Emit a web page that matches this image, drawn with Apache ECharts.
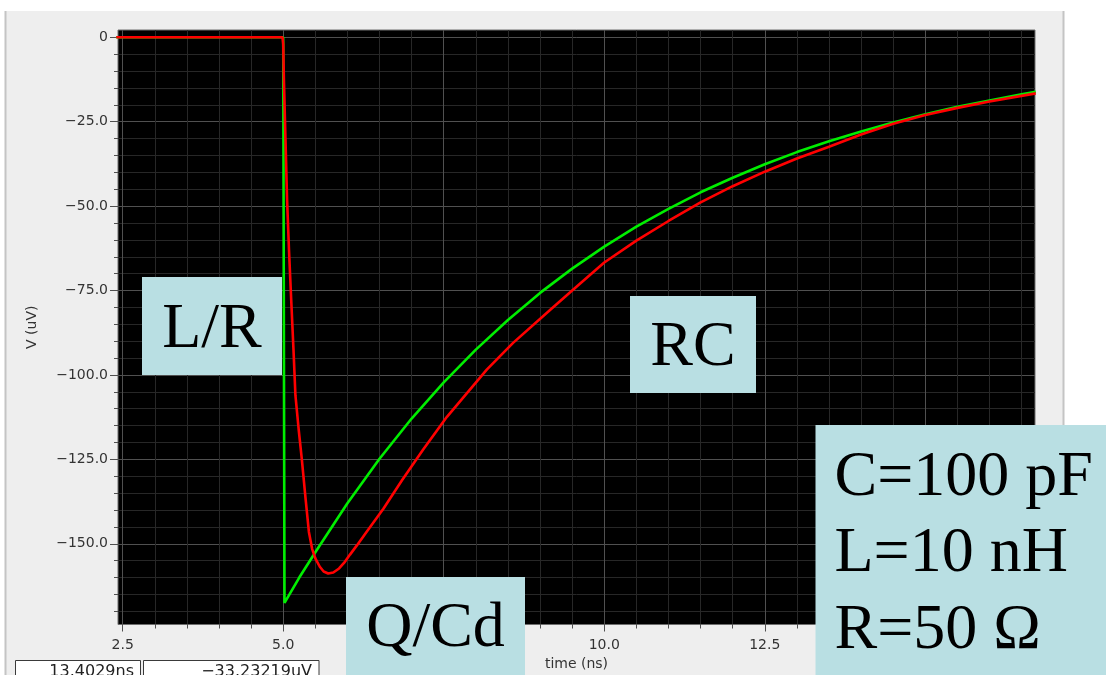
<!DOCTYPE html>
<html><head><meta charset="utf-8">
<script src="https://cdn.jsdelivr.net/npm/echarts@6/dist/echarts.min.js"></script>
<style>html,body{margin:0;padding:0;background:#fff}#c{width:1106px;height:675px}</style>
</head><body><div id="c"></div>
<script>
// ---- data ----
const xMajorTicks = [2.5, 5, 7.5, 10, 12.5, 15];
const xTickLabels = ['2.5', '5.0', '7.5', '10.0', '12.5', '15.0'];
const yMajorTicks = [0, -25, -50, -75, -100, -125, -150];
const yTickLabels = ['0', '−25.0', '−50.0', '−75.0', '−100.0', '−125.0', '−150.0'];

const greenTime = [2.4, 5.0, 5.02, 5.25, 5.5, 6.0, 6.5, 7.0, 7.5, 8.0, 8.5, 9.0, 9.5, 10.0, 10.5, 11.0, 11.5, 12.0, 12.5, 13.0, 13.5, 14.0, 14.5, 15.0, 15.5, 16.0, 16.5, 16.72];
const greenV = [0, 0, -167.5, -160, -152.5, -138, -124.8, -112.9, -102.2, -92.5, -83.7, -75.7, -68.5, -62, -56.1, -50.8, -45.9, -41.6, -37.6, -34.0, -30.8, -27.9, -25.2, -22.8, -20.6, -18.7, -16.9, -16.1];

const redTime = [2.4, 4.99, 5.0, 5.01, 5.035, 5.06, 5.09, 5.125, 5.16, 5.19, 5.24, 5.29, 5.35, 5.40, 5.45, 5.50, 5.57, 5.63, 5.70, 5.78, 5.87, 5.95, 6.04, 6.15, 6.30, 6.56, 6.85, 7.18, 7.55, 8.17, 8.58, 9.16, 9.5, 10.0, 10.5, 11.0, 11.5, 12.0, 12.5, 13.0, 13.5, 14.0, 14.5, 15.0, 15.5, 16.0, 16.72];
const redV = [0, 0, -2, -12, -30, -48, -63, -78, -92.5, -106, -116, -125, -137, -146.5, -151.5, -154.3, -156.8, -158.2, -158.8, -158.5, -157.3, -155.6, -153.2, -150.4, -146.4, -139.6, -131.2, -122.1, -112.4, -98.4, -90.5, -80.7, -75, -66.7, -60.2, -54.4, -48.9, -44.1, -39.8, -35.9, -32.4, -28.8, -25.6, -23.0, -20.9, -19.0, -16.6];

const labelLR = 'L/R';
const labelRC = 'RC';
const labelQ = 'Q/Cd';
const labelParams = 'C=100 pF\nL=10 nH\nR=50 Ω';
const cursorTime = '13.4029ns';
const cursorValue = '−33.23219uV';

// minor tick positions (every 0.5 ns / 5 uV)
const xMinorTicks = [];
for (let i = 0; i <= 28; i++) xMinorTicks.push(+(2.5 + 0.5 * i).toFixed(2));
const yMinorTicks = [];
for (let i = 0; i <= 34; i++) yMinorTicks.push(-5 * i);

function lookup(ticks, labels, v) {
  for (let i = 0; i < ticks.length; i++) if (Math.abs(ticks[i] - v) < 1e-6) return labels[i];
  return '';
}

const X_MIN = 2.427, X_MAX = 16.708, Y_MIN = -173.9, Y_MAX = 2.16;
const AX_FONT = { fontFamily: 'DejaVu Sans', fontSize: 14, color: '#333' };
const BOX = '#b9dfe3';
const MINOR = '#272727', MAJOR = '#505050';

const chart = echarts.init(document.getElementById('c'), null, { renderer: 'canvas' });
chart.setOption({
  animation: false,
  backgroundColor: '#ffffff',
  grid: { left: 118, top: 30, width: 917, height: 594.5, show: true, backgroundColor: '#000', borderColor: '#6e6e6e', borderWidth: 1, containLabel: false, outerBoundsMode: 'none' },
  xAxis: [
    { type: 'value', min: X_MIN, max: X_MAX, position: 'bottom',
      axisLine: { show: false, onZero: false },
      axisTick: { show: true, customValues: xMinorTicks, length: 4, lineStyle: { color: '#505050', width: 1 } },
      axisLabel: { show: false },
      splitLine: { show: true, lineStyle: { color: MINOR, width: 1, type: 'solid' } } },
    { type: 'value', min: X_MIN, max: X_MAX, position: 'bottom',
      axisLine: { show: false, onZero: false },
      axisTick: { show: true, customValues: xMajorTicks, length: 7, lineStyle: { color: '#505050', width: 1 } },
      axisLabel: { show: true, customValues: xMajorTicks, margin: 14, hideOverlap: false, ...AX_FONT,
        formatter: v => lookup(xMajorTicks, xTickLabels, v) },
      splitLine: { show: true, lineStyle: { color: MAJOR, width: 1, type: 'solid' } },
      name: 'time (ns)', nameLocation: 'middle', nameGap: 33, nameMoveOverlap: false,
      nameTextStyle: { ...AX_FONT, verticalAlign: 'top' } }
  ],
  yAxis: [
    { type: 'value', min: Y_MIN, max: Y_MAX, position: 'left',
      axisLine: { show: false, onZero: false },
      axisTick: { show: true, customValues: yMinorTicks, length: 4, lineStyle: { color: '#505050', width: 1 } },
      axisLabel: { show: false },
      splitLine: { show: true, lineStyle: { color: MINOR, width: 1, type: 'solid' } } },
    { type: 'value', min: Y_MIN, max: Y_MAX, position: 'left',
      axisLine: { show: false, onZero: false },
      axisTick: { show: true, customValues: yMajorTicks, length: 8, lineStyle: { color: '#505050', width: 1 } },
      axisLabel: { show: true, customValues: yMajorTicks, margin: 10, hideOverlap: false, ...AX_FONT,
        formatter: v => lookup(yMajorTicks, yTickLabels, v) },
      splitLine: { show: true, lineStyle: { color: MAJOR, width: 1, type: 'solid' } },
      name: 'V (uV)', nameLocation: 'middle', nameRotate: 90, nameGap: 79, nameMoveOverlap: false,
      nameTextStyle: { ...AX_FONT } }
  ],
  series: [
    { type: 'line', name: 'green', xAxisIndex: 0, yAxisIndex: 0, symbol: 'none', showSymbol: false, clip: true, z: 3,
      data: greenTime.map((t, i) => [t, greenV[i]]),
      lineStyle: { color: '#00ee00', width: 2.6 }, itemStyle: { color: '#00ee00' } },
    { type: 'line', name: 'red', xAxisIndex: 0, yAxisIndex: 0, symbol: 'none', showSymbol: false, clip: true, z: 4,
      data: redTime.map((t, i) => [t, redV[i]]),
      lineStyle: { color: '#ff0000', width: 2.6 }, itemStyle: { color: '#ff0000' } }
  ],
  graphic: [
    { type: 'rect', z: -10, silent: true, shape: { x: 5, y: 11, width: 1058, height: 670 }, style: { fill: '#eeeeee' } },
    { type: 'line', z: -9, silent: true, shape: { x1: 5.5, y1: 11, x2: 5.5, y2: 675 }, style: { stroke: '#c4c4c4', lineWidth: 2 } },
    { type: 'line', z: -9, silent: true, shape: { x1: 1063.5, y1: 11, x2: 1063.5, y2: 675 }, style: { stroke: '#c4c4c4', lineWidth: 2 } },
    { type: 'rect', z: 50, silent: true, shape: { x: 15.5, y: 660.5, width: 125, height: 30 }, style: { fill: '#fff', stroke: '#3a3a3a', lineWidth: 1 } },
    { type: 'rect', z: 50, silent: true, shape: { x: 143.5, y: 660.5, width: 175.5, height: 30 }, style: { fill: '#fff', stroke: '#3a3a3a', lineWidth: 1 } },
    { type: 'text', z: 51, silent: true, style: { text: cursorTime, x: 134, y: 664, align: 'right', verticalAlign: 'top', font: '16px "DejaVu Sans"', fill: '#222' } },
    { type: 'text', z: 51, silent: true, style: { text: cursorValue, x: 312, y: 664, align: 'right', verticalAlign: 'top', font: '16px "DejaVu Sans"', fill: '#222' } },

    { type: 'rect', z: 100, silent: true, shape: { x: 142, y: 277, width: 140, height: 98 }, style: { fill: BOX } },
    { type: 'text', z: 101, silent: true, style: { text: labelLR, x: 212, y: 330, align: 'center', verticalAlign: 'middle', font: '64px "Liberation Serif"', fill: '#000' } },
    { type: 'rect', z: 100, silent: true, shape: { x: 630, y: 296, width: 126, height: 97 }, style: { fill: BOX } },
    { type: 'text', z: 101, silent: true, style: { text: labelRC, x: 693, y: 348, align: 'center', verticalAlign: 'middle', font: '64px "Liberation Serif"', fill: '#000' } },
    { type: 'rect', z: 100, silent: true, shape: { x: 346, y: 577, width: 179, height: 100 }, style: { fill: BOX } },
    { type: 'text', z: 101, silent: true, style: { text: labelQ, x: 435.5, y: 629.1, align: 'center', verticalAlign: 'middle', font: '64px "Liberation Serif"', fill: '#000' } },
    { type: 'rect', z: 100, silent: true, shape: { x: 815.5, y: 425, width: 292, height: 252 }, style: { fill: BOX } },
    { type: 'text', z: 101, silent: true, style: { text: labelParams, x: 834.5, y: 440, align: 'left', verticalAlign: 'top', lineHeight: 76.35, font: '64px "Liberation Serif"', fill: '#000' } }
  ]
});
</script></body></html>
